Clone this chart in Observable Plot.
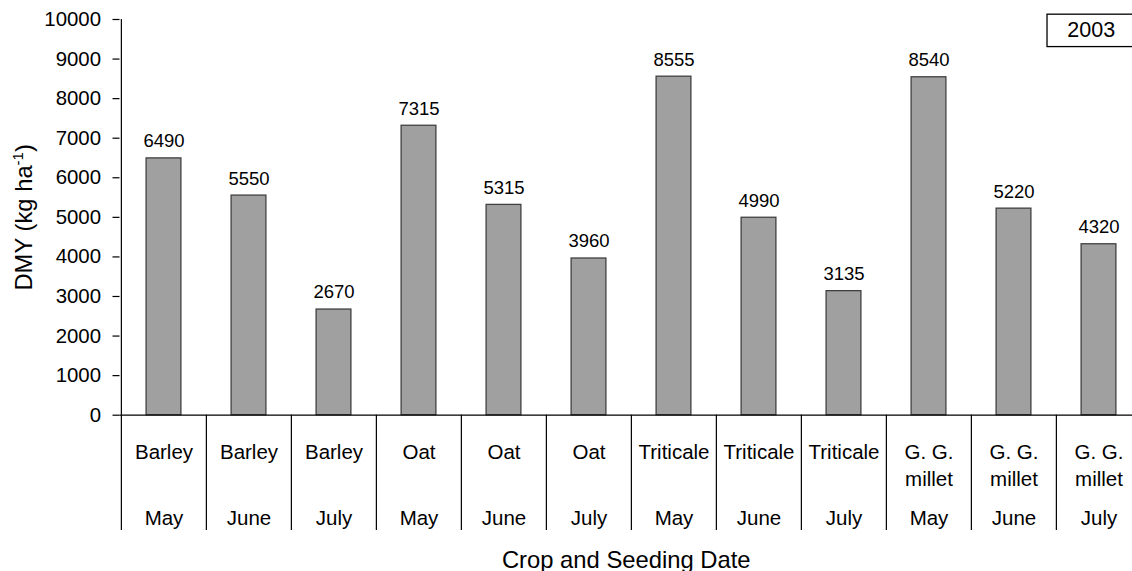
<!DOCTYPE html>
<html>
<head>
<meta charset="utf-8">
<script src="https://cdn.jsdelivr.net/npm/d3@7"></script>
<script src="https://cdn.jsdelivr.net/npm/@observablehq/plot@0.6"></script>
<style>
  html, body { margin: 0; padding: 0; background: #fff; overflow: hidden; }
  svg { font-family: Arial, "Liberation Sans", sans-serif; }
</style>
</head>
<body>
<div id="chart"></div>
<script>
const crops = ["Barley", "Barley", "Barley", "Oat", "Oat", "Oat", "Triticale", "Triticale", "Triticale", "G. G.\nmillet", "G. G.\nmillet", "G. G.\nmillet"];
const months = ["May", "June", "July", "May", "June", "July", "May", "June", "July", "May", "June", "July"];
const dmy = [6490, 5550, 2670, 7315, 5315, 3960, 8555, 4990, 3135, 8540, 5220, 4320];
const yTicks = [0, 1000, 2000, 3000, 4000, 5000, 6000, 7000, 8000, 9000, 10000];
const yearLabel = ["2003"];
const xTitle = ["Crop and Seeding Date"];
const yTitle = ["DMY (kg ha-1)"];

const data = dmy.map((v, i) => ({key: i, crop: crops[i], month: months[i], value: v}));
const keys = data.map(d => d.key);

const W = 1132, H = 571;
const mLeft = 119.5, mTop = 19, plotBottom = 414.7;
const step = 85.25;

const chart = Plot.plot({
  width: W,
  height: H,
  marginLeft: mLeft,
  marginRight: 0,
  marginTop: mTop,
  marginBottom: H - plotBottom,
  style: {fontFamily: "Arial, 'Liberation Sans', sans-serif", background: "#fff", overflow: "hidden"},
  x: {type: "band", domain: keys, range: [mLeft, mLeft + step * keys.length], padding: 0, axis: null},
  y: {domain: [0, 10000], axis: null},
  marks: [
    Plot.barY(data, {x: "key", y: "value", fill: "#a0a0a0", stroke: "#404040", strokeWidth: 1.3, insetLeft: 25.1, insetRight: 25.1}),
    Plot.text(data, {x: "key", y: "value", text: d => String(d.value), dy: -17, fontSize: 18.5, fill: "#000"}),
    Plot.axisY({ticks: yTicks, tickFormat: d => String(d), tickSize: 7, tickPadding: 12, fontSize: 20.4, label: null, stroke: "#000", strokeWidth: 1.2}),
    Plot.ruleX([keys[0]], {x: d => d, y1: 0, y2: 10000, dx: -step / 2, stroke: "#000", strokeWidth: 1.2}),
    Plot.ruleY([0], {stroke: "#000", strokeWidth: 1.2}),
    Plot.axisX({tickSize: 115.3, tickFormat: () => "", dx: -step / 2, stroke: "#000", strokeWidth: 1.2, label: null}),
    Plot.axisX({tickSize: 0, tickPadding: 25.3, tickFormat: i => crops[i], fontSize: 20.5, lineHeight: 1.3, lineAnchor: "top", label: null}),
    Plot.axisX({tickSize: 0, tickPadding: 95, tickFormat: i => months[i], fontSize: 20.5, lineAnchor: "top", label: null}),
    Plot.text(xTitle, {frameAnchor: "bottom", dy: 152.3, lineAnchor: "bottom", fontSize: 23.8, fill: "#000"}),
    Plot.text(yTitle, {frameAnchor: "left", dx: -95.5, textAnchor: "middle", lineAnchor: "middle", rotate: -90, fontSize: 23.8, fill: "#000", className: "ytitle"}),
    Plot.text(yearLabel, {frameAnchor: "top-right", dx: -41.3, dy: 11, textAnchor: "middle", lineAnchor: "middle", fontSize: 21.5, fill: "#000", className: "yearlabel"})
  ]
});

document.getElementById("chart").appendChild(chart);

// superscript for the y title
const yt = d3.select(chart).select(".ytitle text");
if (!yt.empty()) {
  const full = yt.text();
  const m = full.match(/^(.*ha)(-1)(\).*)$/);
  if (m) {
    yt.text("");
    yt.append("tspan").text(m[1]);
    yt.append("tspan").attr("font-size", "15px").attr("dy", "-9").text(m[2]);
    yt.append("tspan").attr("dy", "9").text(m[3]);
  }
}

// box around the year label
const yl = d3.select(chart).select(".yearlabel text");
if (!yl.empty()) {
  const bb = yl.node().getBBox();
  const t = yl.attr("transform");
  const padX = (88.4 - bb.width) / 2;
  d3.select(chart).select(".yearlabel").insert("rect", "text")
    .attr("transform", t)
    .attr("x", bb.x - padX).attr("y", bb.y + bb.height / 2 - 16.2)
    .attr("width", bb.width + 2 * padX).attr("height", 32.4)
    .attr("fill", "#fff").attr("stroke", "#000").attr("stroke-width", 1.3);
}
</script>
</body>
</html>
